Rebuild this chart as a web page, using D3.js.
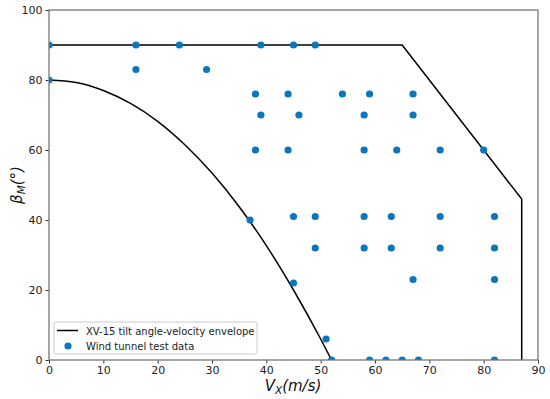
<!DOCTYPE html>
<html>
<head>
<meta charset="utf-8">
<script src="https://cdn.jsdelivr.net/npm/d3@7"></script>
<style>
  body { margin: 0; background: #fff; }
  svg { font-family: "DejaVu Sans", sans-serif; }
</style>
</head>
<body>
<svg id="chart" width="550" height="399"></svg>
<script>
// envelope: flat top, diagonal, vertical drop
const envelopeX = [0, 65, 87, 87];
const envelopeY = [90, 90, 46, 0];

// lower boundary curve
const curveX = [0, 5, 10, 15, 20, 25, 30, 35, 40, 45, 50, 52];
const curveY = [80, 79.3, 77, 73.3, 68.2, 61.5, 53.4, 43.8, 32.7, 20, 6, 0];

// wind tunnel test points
const testX = [0, 16, 24, 39, 45, 49,
    16, 29, 0,
    38, 44, 54, 59, 67,
    39, 46, 58, 67,
    38, 44, 58, 64, 72, 80,
    37,
    45, 49, 58, 63, 72, 82,
    49, 58, 63, 72, 82,
    67, 82, 45, 51,
    52, 59, 62, 65, 68, 82];
const testY = [90, 90, 90, 90, 90, 90,
    83, 83, 80,
    76, 76, 76, 76, 76,
    70, 70, 70, 70,
    60, 60, 60, 60, 60, 60,
    40,
    41, 41, 41, 41, 41, 41,
    32, 32, 32, 32, 32,
    23, 23, 22, 6,
    0, 0, 0, 0, 0, 0];

const xTicks = [0, 10, 20, 30, 40, 50, 60, 70, 80, 90];
const yTicks = [0, 20, 40, 60, 80, 100];

const margin = {left: 49, right: 12, top: 10, bottom: 39};
const width = 550, height = 399;
const dotColor = '#0b76bb';

const svg = d3.select('#chart');

const xScale = d3.scaleLinear().domain([0, 90]).range([margin.left, width - margin.right]);
const yScale = d3.scaleLinear().domain([0, 100]).range([height - margin.bottom, margin.top]);

const plot = svg.append('g');

// clip to plot area so dots on the edge are cut like in matplotlib
svg.append('clipPath').attr('id', 'clip')
    .append('rect')
    .attr('x', margin.left).attr('y', margin.top)
    .attr('width', width - margin.left - margin.right)
    .attr('height', height - margin.top - margin.bottom);

const inner = plot.append('g').attr('clip-path', 'url(#clip)');

const envelope = envelopeX.map((x, i) => [x, envelopeY[i]]);
const curve = curveX.map((x, i) => [x, curveY[i]]);

const line = d3.line()
    .x(d => xScale(d[0]))
    .y(d => yScale(d[1]));

inner.append('path')
    .datum(envelope)
    .attr('d', line)
    .style('fill', 'none')
    .style('stroke', '#000')
    .style('stroke-width', 1.5);

inner.append('path')
    .datum(curve)
    .attr('d', line.curve(d3.curveMonotoneX))
    .style('fill', 'none')
    .style('stroke', '#000')
    .style('stroke-width', 1.5);

inner.selectAll('.dot')
    .data(testX.map((x, i) => ({x: x, y: testY[i]})))
    .enter().append('circle')
    .classed('dot', true)
    .attr('r', 3.6)
    .attr('cx', d => xScale(d.x))
    .attr('cy', d => yScale(d.y))
    .style('fill', dotColor);

// axes
const xAxis = svg.append('g')
    .attr('transform', `translate(0,${height - margin.bottom})`)
    .call(d3.axisBottom(xScale).tickValues(xTicks).tickSize(3.5).tickPadding(3));
const yAxis = svg.append('g')
    .attr('transform', `translate(${margin.left},0)`)
    .call(d3.axisLeft(yScale).tickValues(yTicks).tickSize(3.5).tickPadding(3));

[xAxis, yAxis].forEach(ax => {
    ax.select('.domain').remove();
    ax.selectAll('.tick line').style('stroke', '#333');
    ax.selectAll('.tick text').style('font-size', '11px').style('fill', '#222')
        .style('font-family', '"DejaVu Sans", sans-serif');
});

// frame
svg.append('rect')
    .attr('x', margin.left).attr('y', margin.top)
    .attr('width', width - margin.left - margin.right)
    .attr('height', height - margin.top - margin.bottom)
    .style('fill', 'none')
    .style('stroke', '#777')
    .style('stroke-width', 1.3);

// axis labels
const xLabel = svg.append('text')
    .attr('x', 293).attr('y', 391)
    .attr('text-anchor', 'middle')
    .style('font-size', '15px').style('fill', '#111');
xLabel.append('tspan').style('font-style', 'italic').text('V');
xLabel.append('tspan').style('font-style', 'italic').style('font-size', '10.5px').attr('dy', 3).text('X');
xLabel.append('tspan').attr('dy', -3).style('font-style', 'italic').text('(m/s)');

const yLabel = svg.append('text')
    .attr('transform', 'translate(22,185) rotate(-90)')
    .attr('text-anchor', 'middle')
    .style('font-size', '15px').style('fill', '#111');
yLabel.append('tspan').style('font-style', 'italic').text('β');
yLabel.append('tspan').style('font-style', 'italic').style('font-size', '10.5px').attr('dy', 3).text('M');
yLabel.append('tspan').attr('dy', -3).style('font-style', 'italic').text('(°)');

// legend
const legend = svg.append('g');
legend.append('rect')
    .attr('x', 54).attr('y', 322).attr('width', 203).attr('height', 32)
    .attr('rx', 2)
    .style('fill', '#fff').style('fill-opacity', 0.8)
    .style('stroke', '#ccc').style('stroke-width', 1);
legend.append('line')
    .attr('x1', 57).attr('x2', 78).attr('y1', 330.5).attr('y2', 330.5)
    .style('stroke', '#000').style('stroke-width', 1.5);
legend.append('circle')
    .attr('cx', 68).attr('cy', 346).attr('r', 3.6)
    .style('fill', dotColor);
legend.append('text')
    .attr('x', 86).attr('y', 334.5)
    .style('font-size', '10px').style('fill', '#222')
    .text('XV-15 tilt angle-velocity envelope');
legend.append('text')
    .attr('x', 86).attr('y', 349.5)
    .style('font-size', '10px').style('fill', '#222')
    .text('Wind tunnel test data');
</script>
</body>
</html>
